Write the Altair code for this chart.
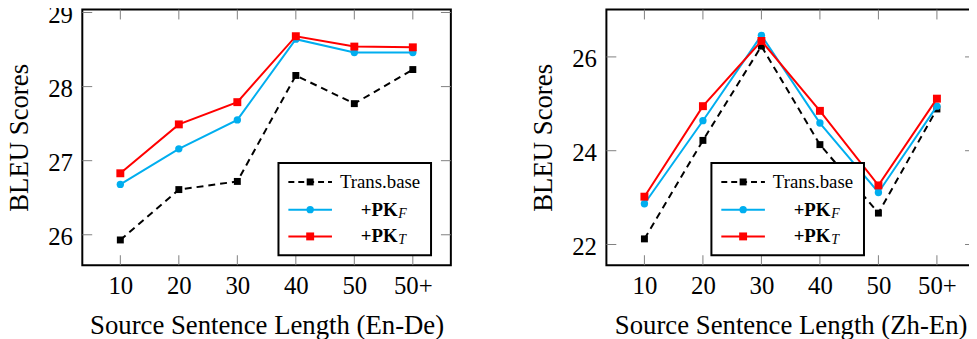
import altair as alt
import pandas as pd

# ---------------- data ----------------
lengths = ["10", "20", "30", "40", "50", "50+"]
series_names = ["Trans.base", "+PK_F", "+PK_T"]

ende_base = [25.93, 26.61, 26.72, 28.15, 27.77, 28.23]
ende_pkf = [26.68, 27.16, 27.55, 28.64, 28.46, 28.46]
ende_pkt = [26.83, 27.49, 27.79, 28.68, 28.54, 28.53]

zhen_base = [22.12, 24.22, 26.23, 24.13, 22.67, 24.89]
zhen_pkf = [22.87, 24.64, 26.46, 24.59, 23.11, 24.95]
zhen_pkt = [23.02, 24.95, 26.34, 24.85, 23.26, 25.11]

ende_yticks = [26, 27, 28, 29]
zhen_yticks = [22, 24, 26]
ende_domain = [25.59, 29.04]
zhen_domain = [21.56, 27.01]

# ---------------- style ----------------
FONT = "Liberation Serif"
W, H = 372, 258
BLACK = "#000000"
CYAN = "#00AEEF"
RED = "#FF0000"
TICK_GRAY = "#808080"
TICK_LEN = 10


def panel(base, pkf, pkt, ydomain, yticks, xtitle, legend_left):
    df = pd.DataFrame({
        "length": lengths * 3,
        "score": base + pkf + pkt,
        "series": [series_names[0]] * 6 + [series_names[1]] * 6 + [series_names[2]] * 6,
    })
    x_enc = alt.X(
        "length:O", sort=lengths,
        scale=alt.Scale(type="point", padding=0.65),
        axis=alt.Axis(title=xtitle, labelAngle=0, labelPadding=9, titlePadding=14,
                      ticks=False, domain=False, grid=False),
    )
    y_enc = alt.Y(
        "score:Q",
        scale=alt.Scale(domain=ydomain, nice=False, zero=False),
        axis=alt.Axis(title="BLEU Scores", values=yticks, labelPadding=10, titlePadding=14,
                      labelOffset=2, ticks=False, domain=False, grid=False),
    )

    # inward ticks on all four sides
    xt = pd.DataFrame({"length": lengths})
    yt = pd.DataFrame({"score": yticks})
    tick_style = dict(color=TICK_GRAY, strokeWidth=1)
    top_ticks = alt.Chart(xt).mark_rule(**tick_style).encode(
        x=x_enc, y=alt.value(0), y2=alt.value(TICK_LEN))
    bot_ticks = alt.Chart(xt).mark_rule(**tick_style).encode(
        x=x_enc, y=alt.value(H - TICK_LEN), y2=alt.value(H))
    left_ticks = alt.Chart(yt).mark_rule(**tick_style).encode(
        y=y_enc, x=alt.value(0), x2=alt.value(TICK_LEN))
    right_ticks = alt.Chart(yt).mark_rule(**tick_style).encode(
        y=y_enc, x=alt.value(W - TICK_LEN), x2=alt.value(W))

    def series_layers(name, color, dash, shape, size):
        d = df[df["series"] == name]
        line_kw = dict(color=color, strokeWidth=2)
        if dash:
            line_kw["strokeDash"] = dash
        line = alt.Chart(d).mark_line(**line_kw).encode(x=x_enc, y=y_enc)
        pts = alt.Chart(d).mark_point(filled=True, shape=shape, size=size, color=color,
                                      opacity=1).encode(x=x_enc, y=y_enc)
        return [line, pts]

    layers = [top_ticks, bot_ticks, left_ticks, right_ticks]
    layers += series_layers(series_names[0], BLACK, [7, 5], "square", 49)
    layers += series_layers(series_names[1], CYAN, None, "circle", 55)
    layers += series_layers(series_names[2], RED, None, "square", 64)

    # ---------- legend (drawn inside the plot) ----------
    one = pd.DataFrame({"a": [0]})
    bx0 = legend_left
    bx1 = legend_left + 154
    by0, by1 = 155, 248
    rows = [174, 202, 229]
    layers.append(alt.Chart(one).mark_rect(fill="white", stroke=BLACK, strokeWidth=2).encode(
        x=alt.value(bx0), x2=alt.value(bx1), y=alt.value(by0), y2=alt.value(by1)))
    specs = [(BLACK, [7, 5], "square", 49), (CYAN, None, "circle", 55), (RED, None, "square", 64)]
    for i, (color, dash, shape, size) in enumerate(specs):
        ry = rows[i]
        rk = dict(color=color, strokeWidth=2)
        if dash:
            rk["strokeDash"] = [6, 4]
        layers.append(alt.Chart(one).mark_rule(**rk).encode(
            x=alt.value(bx0 + 10), x2=alt.value(bx0 + 54), y=alt.value(ry)))
        layers.append(alt.Chart(one).mark_point(filled=True, shape=shape, size=size, color=color,
                                                opacity=1).encode(
            x=alt.value(bx0 + 32), y=alt.value(ry)))
    layers.append(alt.Chart(one).mark_text(font=FONT, fontSize=19, align="left", baseline="middle",
                                           color=BLACK).encode(
        x=alt.value(bx0 + 62), y=alt.value(rows[0]), text=alt.value("Trans.base")))
    for i, sub in [(1, "F"), (2, "T")]:
        layers.append(alt.Chart(one).mark_text(font=FONT, fontSize=19, fontWeight="bold",
                                               align="left", baseline="middle", color=BLACK).encode(
            x=alt.value(bx0 + 83), y=alt.value(rows[i]), text=alt.value("+PK")))
        layers.append(alt.Chart(one).mark_text(font=FONT, fontSize=14, fontStyle="italic",
                                               align="left", baseline="middle", color=BLACK).encode(
            x=alt.value(bx0 + 121), y=alt.value(rows[i] + 4), text=alt.value(sub)))

    return alt.layer(*layers).properties(width=W, height=H)


left = panel(ende_base, ende_pkf, ende_pkt, ende_domain, ende_yticks,
             "Source Sentence Length (En-De)", 198)
right = panel(zhen_base, zhen_pkf, zhen_pkt, zhen_domain, zhen_yticks,
              "Source Sentence Length (Zh-En)", 106)

chart = alt.hconcat(left, right, spacing=157, bounds="flush").properties(
    padding={"left": -3, "top": -9, "right": -8, "bottom": 0}
).configure_view(stroke=BLACK, strokeWidth=2).configure_axis(
    labelFont=FONT, labelFontSize=25, labelColor=BLACK,
    titleFont=FONT, titleFontSize=27, titleFontWeight="normal", titleColor=BLACK,
)

chart.save("out.html", embed_options={"renderer": "svg", "actions": False})
